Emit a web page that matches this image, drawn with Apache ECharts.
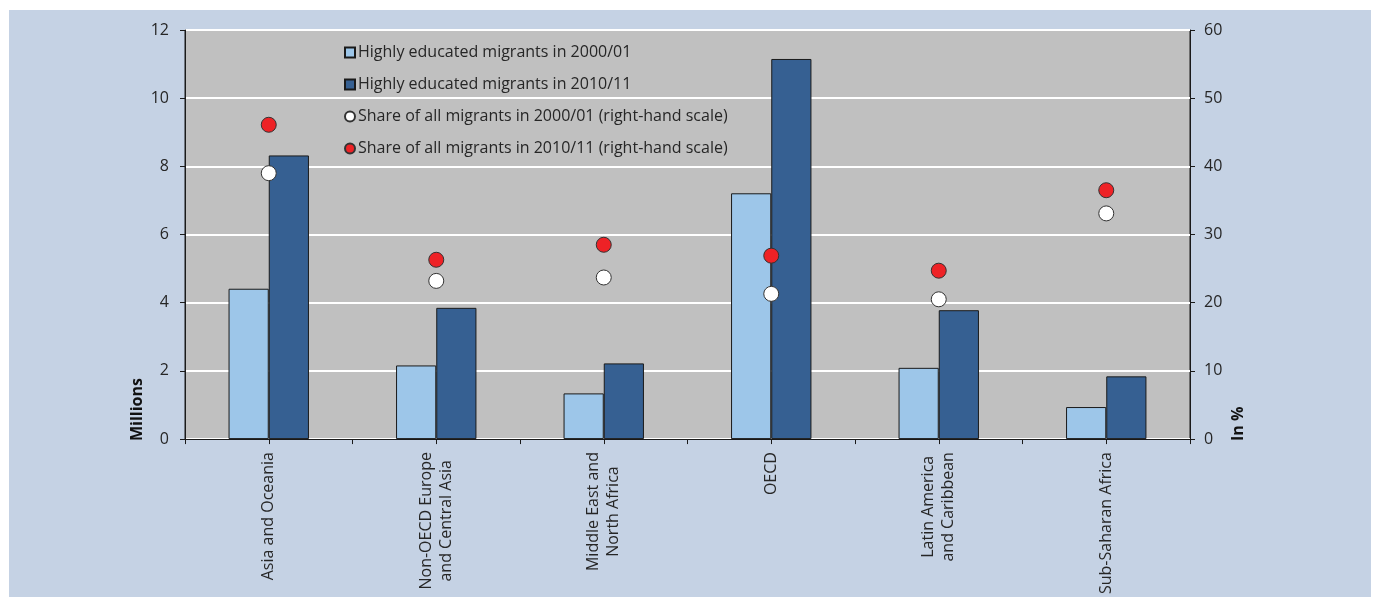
<!DOCTYPE html>
<html>
<head>
<meta charset="utf-8">
<script src="https://cdn.jsdelivr.net/npm/echarts@6/dist/echarts.min.js"></script>
<style>
html,body{margin:0;padding:0;background:#fff;}
#chart{position:absolute;left:9px;top:10px;width:1362px;height:587px;}
</style>
</head>
<body>
<div id="chart"></div>
<script>
// regions
var regions = ['Asia and Oceania', 'Non-OECD Europe\nand Central Asia', 'Middle East and\nNorth Africa', 'OECD', 'Latin America\nand Caribbean', 'Sub-Saharan Africa'];
// millions
var edu2000 = [4.41, 2.16, 1.34, 7.21, 2.09, 0.94];
var edu2010 = [8.32, 3.85, 2.22, 11.15, 3.78, 1.84];
// share, %
var share2000 = [39.0, 23.2, 23.7, 21.3, 20.5, 33.1];
var share2010 = [46.1, 26.3, 28.5, 26.9, 24.7, 36.5];
var leftTicks = [0, 2, 4, 6, 8, 10, 12];
var rightTicks = [0, 10, 20, 30, 40, 50, 60];

var names = ['Highly educated migrants in 2000/01', 'Highly educated migrants in 2010/11',
	'Share of all migrants in 2000/01 (right-hand scale)', 'Share of all migrants in 2010/11 (right-hand scale)'];

var fontFam = '"Open Sans", "Noto Sans", sans-serif';
var txtColor = '#262626';

var chart = echarts.init(document.getElementById('chart'));
var option = {
	backgroundColor: '#c5d2e4',
	animation: false,
	textStyle: {fontFamily: fontFam},
	grid: {
		left: 176, right: 181, top: 20, bottom: 156,
		show: true, backgroundColor: '#c0c0c0', borderColor: '#1a1a1a', borderWidth: 1
	},
	legend: {
		orient: 'vertical',
		left: 330, top: 28,
		itemWidth: 10, itemHeight: 10,
		itemGap: 13,
		textStyle: {fontSize: 16, color: txtColor, lineHeight: 19, fontFamily: fontFam, padding: [0, 0, 0, -2]},
		data: [
			{name: names[0], icon: 'rect'},
			{name: names[1], icon: 'rect'},
			{name: names[2], icon: 'circle'},
			{name: names[3], icon: 'circle'}
		]
	},
	xAxis: [{
		type: 'category',
		data: regions,
		position: 'bottom',
		axisLine: {lineStyle: {color: '#1a1a1a', width: 1}},
		axisTick: {show: true, interval: 0, length: 5, lineStyle: {color: '#1a1a1a'}},
		axisLabel: {
			interval: 0, rotate: 90, margin: 13,
			formatter: function (v) {
				return v.split('\n').map(function (s) { return '{c|' + s + '}'; }).join('\n');
			},
			rich: {c: {align: 'center', fontSize: 16, color: txtColor, fontFamily: fontFam, lineHeight: 20}}
		},
		splitLine: {show: false}
	}, {
		type: 'category',
		data: regions,
		position: 'bottom',
		axisLine: {show: false},
		axisTick: {show: true, alignWithLabel: true, length: 5, lineStyle: {color: '#1a1a1a'}},
		axisLabel: {show: false},
		splitLine: {show: false}
	}],
	yAxis: [{
		type: 'value',
		min: leftTicks[0], max: leftTicks[leftTicks.length - 1], interval: 2,
		position: 'left',
		axisLine: {show: true, lineStyle: {color: '#1a1a1a'}},
		axisTick: {show: true, length: 5, lineStyle: {color: '#1a1a1a'}},
		axisLabel: {fontSize: 16, color: txtColor, margin: 16},
		splitLine: {show: true, lineStyle: {color: '#ffffff', width: 2}}
	}, {
		type: 'value',
		min: rightTicks[0], max: rightTicks[rightTicks.length - 1], interval: 10,
		position: 'right',
		axisLine: {show: true, lineStyle: {color: '#1a1a1a'}},
		axisTick: {show: true, length: 5, lineStyle: {color: '#1a1a1a'}},
		axisLabel: {fontSize: 16, color: txtColor, margin: 14},
		splitLine: {show: false}
	}],
	graphic: [{
		type: 'text', x: 128, y: 431, rotation: Math.PI / 2,
		style: {text: 'Millions', font: 'bold 16px ' + fontFam, fill: '#111', align: 'left', verticalAlign: 'middle'}
	}, {
		type: 'text', x: 1229, y: 431, rotation: Math.PI / 2,
		style: {text: 'In %', font: 'bold 16px ' + fontFam, fill: '#111', align: 'left', verticalAlign: 'middle'}
	}],
	series: [{
		name: names[0], type: 'bar', data: edu2000,
		barGap: '0%', barCategoryGap: '52%',
		itemStyle: {color: '#9dc6e9', borderColor: '#1a1a1a', borderWidth: 1}
	}, {
		name: names[1], type: 'bar', data: edu2010,
		itemStyle: {color: '#366092', borderColor: '#1a1a1a', borderWidth: 1}
	}, {
		name: names[2], type: 'scatter', yAxisIndex: 1, data: share2000,
		symbolSize: 15, z: 5,
		itemStyle: {color: '#ffffff', borderColor: '#333', borderWidth: 1, opacity: 1}
	}, {
		name: names[3], type: 'scatter', yAxisIndex: 1, data: share2010,
		symbolSize: 15, z: 5,
		itemStyle: {color: '#ee2226', borderColor: '#333', borderWidth: 1, opacity: 1}
	}]
};
chart.setOption(option);
</script>
</body>
</html>
